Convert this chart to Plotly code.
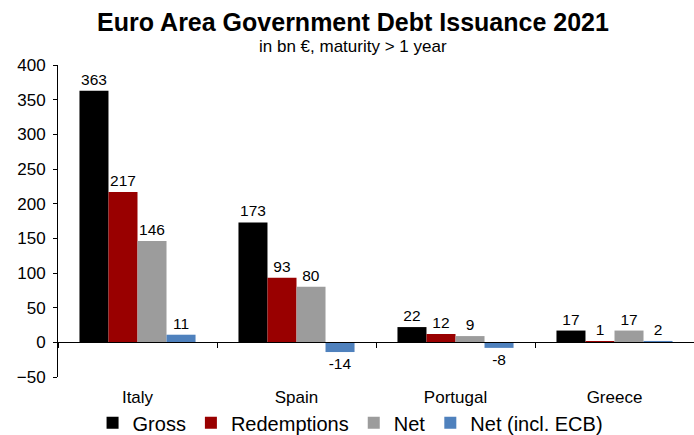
import plotly.graph_objects as go

categories = ["Italy", "Spain", "Portugal", "Greece"]
gross = [363, 173, 22, 17]
redemptions = [217, 93, 12, 1]
net = [146, 80, 9, 17]
net_ecb = [11, -14, -8, 2]

series = [
    ("Gross", gross, "#000000"),
    ("Redemptions", redemptions, "#990000"),
    ("Net", net, "#9C9C9C"),
    ("Net (incl. ECB)", net_ecb, "#4F81BD"),
]

FONT = "Liberation Sans, Arial, sans-serif"

fig = go.Figure()
for name, vals, color in series:
    fig.add_trace(go.Bar(
        name=name, x=categories, y=vals,
        marker=dict(color=color, line=dict(width=0)),
        text=[str(v) for v in vals], textposition="outside",
        textfont=dict(family=FONT, size=15.5, color="#000000"),
        constraintext="none", cliponaxis=False,
    ))

fig.update_layout(
    width=694, height=435,
    margin=dict(l=58, r=0, t=65, b=58, autoexpand=False),
    paper_bgcolor="white", plot_bgcolor="white",
    font=dict(family=FONT, size=15, color="#000000"),
    barmode="group", bargap=0.27, bargroupgap=0,
    title=dict(text="<b>Euro Area Government Debt Issuance 2021</b>",
               font=dict(family=FONT, size=25, color="#000000"),
               x=353 / 694, xref="container", xanchor="center",
               y=1 - 22 / 435, yref="container", yanchor="middle"),
    annotations=[dict(text="in bn €, maturity > 1 year", x=(353 - 58) / 636, xref="paper",
                      xanchor="center", y=1 + (65 - 46) / 312, yref="paper", yanchor="middle",
                      showarrow=False, font=dict(family=FONT, size=17, color="#000000"))],
    legend=dict(orientation="h", x=0.46, xanchor="center", y=-0.147, yanchor="middle",
                font=dict(family=FONT, size=20, color="#000000"),
                bgcolor="rgba(0,0,0,0)", itemclick=False),
    xaxis=dict(anchor="free", position=50 / 450, showline=True, linecolor="#000000",
               linewidth=1, ticks="outside", tickson="boundaries", ticklen=5,
               tickcolor="#000000", showgrid=False, ticklabelstandoff=39,
               tickfont=dict(family=FONT, size=17, color="#000000")),
    yaxis=dict(range=[-50, 400], dtick=50, tick0=0, showline=True, linecolor="#000000",
               linewidth=1, ticks="outside", ticklen=4, tickcolor="#000000",
               showgrid=False, zeroline=False, ticklabelstandoff=4,
               tickfont=dict(family=FONT, size=17, color="#000000")),
)

fig.write_html("out.html")
